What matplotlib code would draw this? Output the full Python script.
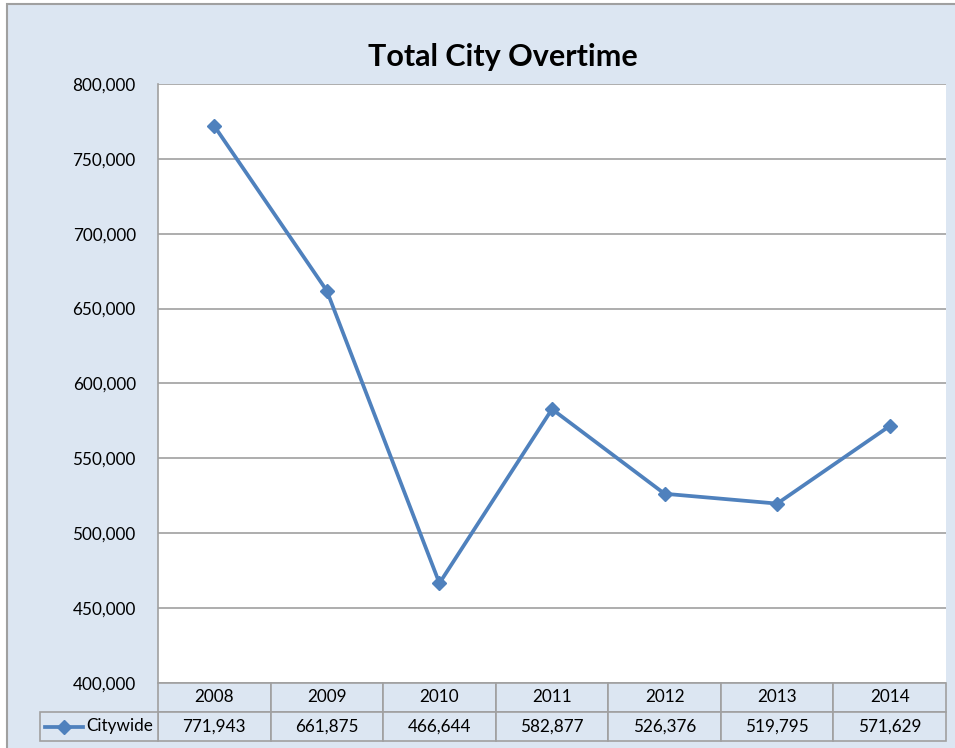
import matplotlib.pyplot as plt
from matplotlib.patches import Rectangle
from matplotlib.lines import Line2D
from matplotlib.ticker import FuncFormatter
from matplotlib.transforms import blended_transform_factory

years = ["2008", "2009", "2010", "2011", "2012", "2013", "2014"]
citywide = [771943, 661875, 466644, 582877, 526376, 519795, 571629]
series_name = "Citywide"
title = "Total City Overtime"

bg = "#dce6f2"
edge = "#a0a0a0"
blue = "#4f81bd"

plt.rcParams["font.family"] = ["Lato", "DejaVu Sans"]

W, H = 955, 748
fig = plt.figure(figsize=(W / 100, H / 100), dpi=100, facecolor="white")

# chart area background with border
fig.patches.append(Rectangle((7 / W, -0.1), 1.1, 1 - 4 / H + 0.1, transform=fig.transFigure,
                             facecolor=bg, edgecolor=edge, linewidth=1.5, zorder=-5))

left, right, top, bottom = 158, 946, 84, 683
ax = fig.add_axes([left / W, 1 - bottom / H, (right - left) / W, (bottom - top) / H])
ax.set_facecolor("white")

x = list(range(len(years)))
ax.plot(x, citywide, color=blue, linewidth=2.7, marker="D", markersize=7.5,
        markerfacecolor=blue, markeredgecolor=blue, zorder=3, clip_on=False)

ax.set_xlim(-0.5, len(years) - 0.5)
ax.set_ylim(400000, 800000)
ax.set_yticks(range(400000, 800001, 50000))
ax.yaxis.set_major_formatter(FuncFormatter(lambda v, p: f"{int(v):,}"))
ax.tick_params(axis="y", length=0, pad=16, labelsize=12.3)
ax.set_xticks([])
ax.grid(axis="y", color=edge, linewidth=1.2)
ax.set_axisbelow(True)
for s in ["top", "right", "bottom"]:
    ax.spines[s].set_visible(False)
ax.spines["left"].set_color(edge)
ax.spines["left"].set_linewidth(1.2)

# data table beneath the axis
row_h = 29 / (bottom - top)
trans = blended_transform_factory(ax.transData, ax.transAxes)
for i, (yr, val) in enumerate(zip(years, citywide)):
    for r, txt in enumerate([yr, f"{val:,}"]):
        y0 = -row_h * (r + 1)
        ax.add_patch(Rectangle((i - 0.5, y0), 1, row_h, transform=trans, facecolor=bg,
                               edgecolor=edge, linewidth=1.2, clip_on=False, zorder=2))
        ax.text(i, y0 + row_h / 2, txt, transform=trans, ha="center", va="center",
                fontsize=12.3, clip_on=False)

# legend key cell
unit = (right - left) / len(years)
key_w = (left - 40) / unit
ax.add_patch(Rectangle((-0.5 - key_w, -2 * row_h), key_w, row_h, transform=trans, facecolor=bg,
                       edgecolor=edge, linewidth=1.2, clip_on=False, zorder=2))
kx0 = -0.5 - key_w + 5 / unit
kx1 = kx0 + 38 / unit
ax.add_line(Line2D([kx0, kx1], [-1.5 * row_h] * 2, transform=trans, color=blue, linewidth=2.7,
                   clip_on=False, zorder=3))
ax.add_line(Line2D([(kx0 + kx1) / 2], [-1.5 * row_h], transform=trans, marker="D", markersize=7.5,
                   color=blue, clip_on=False, zorder=3))
ax.text(kx1 + 3 / unit, -1.5 * row_h, series_name, transform=trans, ha="left", va="center",
        fontsize=12.3, clip_on=False)

fig.text(503 / W, 1 - 57 / H, title, ha="center", va="center", fontsize=22, fontweight="bold")

fig.savefig("out.png", dpi=100, facecolor="white")
